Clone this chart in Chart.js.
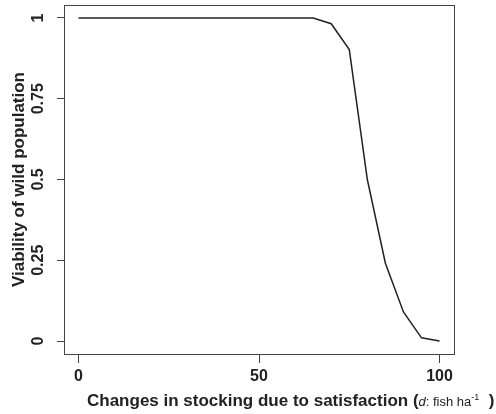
<!DOCTYPE html>
<html>
<head>
<meta charset="utf-8">
<script src="https://cdn.jsdelivr.net/npm/chart.js@4.4.1/dist/chart.umd.min.js"></script>
<style>
  html, body { margin: 0; padding: 0; background: #fff; }
  #wrap { width: 496px; height: 414px; position: relative; }
</style>
</head>
<body>
<div id="wrap"><canvas id="viability"></canvas></div>
<script>
// stocking change d (fish/ha) and resulting viability
const stocking = [0, 5, 10, 15, 20, 25, 30, 35, 40, 45, 50, 55, 60, 65, 70, 75, 80, 85, 90, 95, 100];
const viability = [1, 1, 1, 1, 1, 1, 1, 1, 1, 1, 1, 1, 1, 1, 0.982, 0.902, 0.5, 0.241, 0.09, 0.01, 0];

const xTicks = [0, 50, 100];
const yTicks = [0, 0.25, 0.5, 0.75, 1];

const FONT = 'Liberation Sans, Arial, Helvetica, sans-serif';
const INK = '#222';

// box around the plotting region
const boxPlugin = {
    id: 'plotBox',
    afterDraw(chart) {
        const a = chart.chartArea;
        const ctx = chart.ctx;
        ctx.save();
        ctx.strokeStyle = '#444';
        ctx.lineWidth = 1;
        ctx.strokeRect(Math.round(a.left) + 0.5, Math.round(a.top) + 0.5,
            Math.round(a.right - a.left), Math.round(a.bottom - a.top));
        ctx.restore();
    }
};

// x axis title with mixed styles: bold text, italic d, superscript -1
const xTitlePlugin = {
    id: 'xTitle',
    afterDraw(chart) {
        const ctx = chart.ctx;
        const runs = [
            { t: 'Changes in stocking due to satisfaction (', f: 'bold 17px ' + FONT, dy: 0 },
            { t: 'd', f: 'italic 13px ' + FONT, dy: 0 },
            { t: ': fish ha', f: '13px ' + FONT, dy: 0 },
            { t: '-1', f: '9px ' + FONT, dy: -6 },
            { t: '  )', f: 'bold 17px ' + FONT, dy: 0 }
        ];
        let x = 87;
        const y = 406;
        ctx.save();
        ctx.fillStyle = INK;
        ctx.textBaseline = 'alphabetic';
        ctx.textAlign = 'left';
        runs.forEach(r => {
            ctx.font = r.f;
            ctx.fillText(r.t, x, y + r.dy);
            x += ctx.measureText(r.t).width;
        });
        ctx.restore();
    }
};

new Chart(document.getElementById('viability').getContext('2d'), {
    type: 'line',
    data: {
        datasets: [{
            data: stocking.map((s, i) => ({ x: s, y: viability[i] })),
            borderColor: INK,
            borderWidth: 1.5,
            pointRadius: 0,
            fill: false,
            tension: 0
        }]
    },
    options: {
        responsive: true,
        maintainAspectRatio: false,
        animation: false,
        layout: { padding: { left: 0, right: 42, top: 5, bottom: 0 } },
        plugins: {
            legend: { display: false },
            tooltip: { enabled: false }
        },
        scales: {
            x: {
                type: 'linear',
                min: -4,
                max: 104,
                afterBuildTicks: axis => { axis.ticks = xTicks.map(v => ({ value: v })); },
                afterFit: axis => {
                    axis.height = 60;
                    axis.paddingLeft = 0;
                    axis.paddingRight = 0;
                },
                border: { display: false },
                grid: { drawOnChartArea: false, drawTicks: true, tickLength: 9, color: '#444' },
                ticks: {
                    color: INK,
                    padding: 4,
                    font: { family: FONT, size: 16, weight: 'bold' },
                    maxRotation: 0
                }
            },
            y: {
                type: 'linear',
                min: -0.04,
                max: 1.04,
                afterBuildTicks: axis => { axis.ticks = yTicks.map(v => ({ value: v })); },
                afterFit: axis => {
                    axis.width = 64;
                    axis.paddingTop = 0;
                    axis.paddingBottom = 0;
                },
                border: { display: false },
                grid: { drawOnChartArea: false, drawTicks: true, tickLength: 7, color: '#444' },
                ticks: {
                    color: INK,
                    padding: 3,
                    crossAlign: 'center',
                    minRotation: 90,
                    maxRotation: 90,
                    font: { family: FONT, size: 16, weight: 'bold' },
                    callback: v => String(v)
                },
                title: {
                    display: true,
                    text: 'Viability of wild population',
                    color: INK,
                    font: { family: FONT, size: 17, weight: 'bold' },
                    padding: { top: 9, bottom: 0 }
                }
            }
        }
    },
    plugins: [boxPlugin, xTitlePlugin]
});
</script>
</body>
</html>
